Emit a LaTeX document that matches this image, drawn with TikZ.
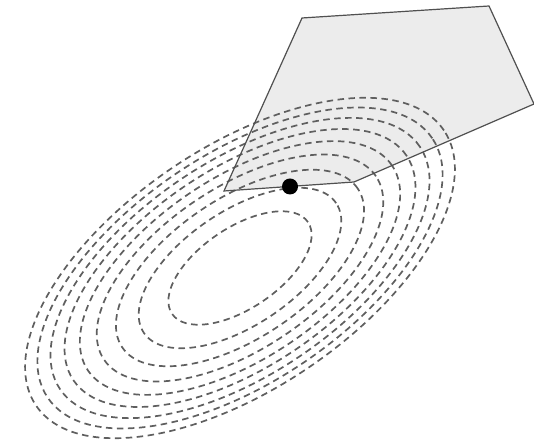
\documentclass[tikz,border=0pt]{standalone}
\usetikzlibrary{calc}
\definecolor{contourgray}{RGB}{95,95,95}
\definecolor{polyfill}{RGB}{236,236,236}
\definecolor{polyline}{RGB}{80,80,80}
\tikzset{
  contour/.style={draw=contourgray, line width=1.7pt, dash pattern=on 6.5pt off 4.5pt},
  feasible/.style={fill=polyfill},
  feasibleedge/.style={draw=polyline, line width=1.2pt, line join=miter},
  optpoint/.style={fill=black}
}
\begin{document}
\begin{tikzpicture}[x=1pt,y=1pt]
\useasboundingbox (0,0) rectangle (534,443);
\coordinate (c) at (240,175);
\coordinate (A) at (224,252);
\coordinate (B) at (302,425);
\coordinate (C) at (489,437);
\coordinate (D) at (534,339);
\coordinate (E) at (354,261);
\coordinate (opt) at (290,256.5);
\fill[feasible] (A) -- (B) -- (C) -- (D) -- (E) -- cycle;
\foreach \k in {1,...,9}{
  \draw[contour, rotate around={34:(c)}] (c) ellipse [x radius={82*sqrt(\k)}, y radius={40.3*sqrt(\k)}];
}
\draw[feasibleedge] (A) -- (B) -- (C) -- (D) -- (E) -- cycle;
\fill[optpoint] (opt) circle (8);
\end{tikzpicture}
\end{document}
